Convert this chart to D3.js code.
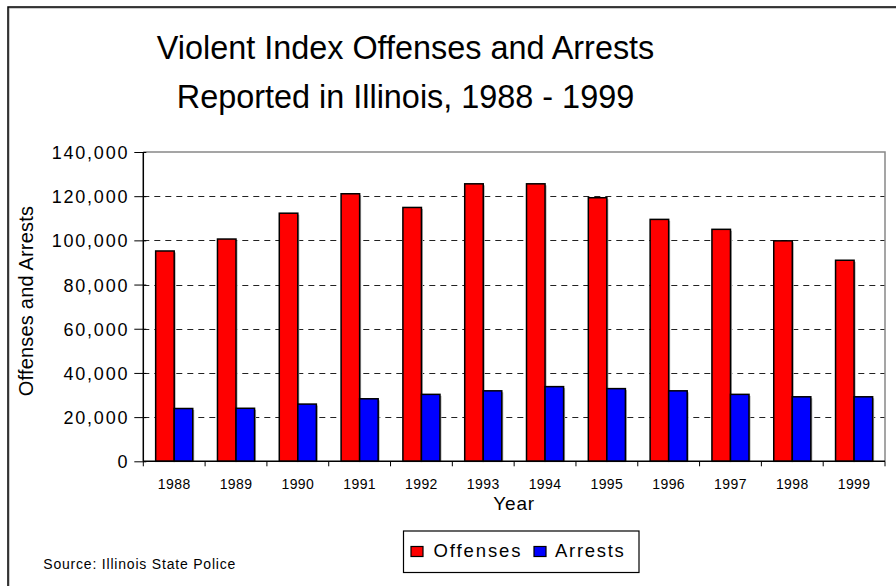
<!DOCTYPE html>
<html>
<head>
<meta charset="utf-8">
<script src="https://cdn.jsdelivr.net/npm/d3@7"></script>
<style>
  html, body { margin: 0; padding: 0; background: #fff; }
  svg { display: block; font-family: "Liberation Sans", Arial, sans-serif; }
</style>
</head>
<body>
<svg id="chart" width="896" height="586"></svg>
<script>
const years = ["1988","1989","1990","1991","1992","1993","1994","1995","1996","1997","1998","1999"];
const offenses = [95200, 100600, 112300, 121100, 114900, 125600, 125600, 119300, 109500, 105000, 99800, 91000];
const arrests  = [23900, 24000, 25900, 28300, 30300, 31900, 33800, 32900, 31900, 30300, 29200, 29200];
const seriesNames = ["Offenses", "Arrests"];
const seriesColors = ["#FF0000", "#0000FF"];
const yTicks = [0, 20000, 40000, 60000, 80000, 100000, 120000, 140000];
const titleLines = ["Violent Index Offenses and Arrests", "Reported in Illinois, 1988 - 1999"];

(function () {
const svg = d3.select("#chart");
const pLeft = 143.3, pRight = 885, pTop = 152, pBottom = 461.3;

// outer frame
svg.append("rect").attr("x", 9).attr("y", 8).attr("width", 900).attr("height", 600)
  .attr("fill", "none").attr("stroke", "#999").attr("stroke-width", 1);
svg.append("rect").attr("x", 8).attr("y", 7).attr("width", 900).attr("height", 600)
  .attr("fill", "none").attr("stroke", "#000").attr("stroke-width", 1.5);

// title
svg.append("g").selectAll("text").data(titleLines).join("text")
  .attr("x", 405.5).attr("y", (d, i) => 59 + i * 49)
  .attr("text-anchor", "middle").attr("font-size", 32.4).attr("fill", "#000")
  .text(d => d);

const x = d3.scaleBand().domain(years).range([pLeft, pRight]).paddingInner(0.4).paddingOuter(0.2);
const xs = d3.scaleBand().domain(seriesNames).range([0, x.bandwidth()]);
const y = d3.scaleLinear().domain([0, 140000]).range([pBottom, pTop]);

// gridlines
svg.append("g").selectAll("line").data(yTicks.filter(t => t > 0 && t < 140000)).join("line")
  .attr("x1", pLeft).attr("x2", pRight)
  .attr("y1", d => Math.round(y(d)) + 0.5).attr("y2", d => Math.round(y(d)) + 0.5)
  .attr("stroke", "#222").attr("stroke-width", 1).attr("stroke-dasharray", "6,5");

// plot area top/right border (gray)
svg.append("path")
  .attr("d", `M${pLeft},${pTop}H${pRight}V${pBottom}`)
  .attr("fill", "none").attr("stroke", "#888").attr("stroke-width", 1.5);

// bars
const data = years.map((yr, i) => ({ year: yr, values: [offenses[i], arrests[i]] }));
const groups = svg.append("g").selectAll("g").data(data).join("g")
  .attr("transform", d => `translate(${x(d.year)},0)`);
groups.selectAll("rect.sh").data(d => d.values.map((v, k) => ({ v, k }))).join("rect")
  .attr("class", "sh")
  .attr("x", d => xs(seriesNames[d.k]) + 1.5)
  .attr("y", d => y(d.v) + 1.5)
  .attr("width", xs.bandwidth())
  .attr("height", d => pBottom - y(d.v) - 1.5)
  .attr("fill", "#aaa");
groups.selectAll("rect.bar").data(d => d.values.map((v, k) => ({ v, k }))).join("rect")
  .attr("class", "bar")
  .attr("x", d => xs(seriesNames[d.k]))
  .attr("y", d => y(d.v))
  .attr("width", xs.bandwidth())
  .attr("height", d => pBottom - y(d.v))
  .attr("fill", d => seriesColors[d.k])
  .attr("stroke", "#000").attr("stroke-width", 1.5);

// y axis
const yAxis = d3.axisLeft(y).tickValues(yTicks).tickSize(6).tickPadding(0)
  .tickFormat(d3.format(","));
const yg = svg.append("g").attr("transform", `translate(${pLeft},0)`).call(yAxis);
yg.select(".domain").attr("stroke", "#000").attr("stroke-width", 1.5).attr("d", `M0,${pTop}V${pBottom}`);
yg.selectAll(".tick line").attr("x1", -9).attr("x2", 3).attr("stroke", "#000");
yg.selectAll(".tick text").attr("x", -14).attr("dy", "0.36em")
  .attr("font-size", 18).attr("letter-spacing", "1.8px").attr("fill", "#000")
  .attr("font-family", "Liberation Sans, Arial, sans-serif");

// x axis
const xAxis = d3.axisBottom(x).tickSize(0).tickPadding(0);
const xg = svg.append("g").attr("transform", `translate(0,${pBottom})`).call(xAxis);
xg.select(".domain").attr("stroke", "#000").attr("stroke-width", 1.5).attr("d", `M${pLeft},0H${pRight}`);
xg.selectAll(".tick text").attr("y", 28).attr("dy", 0)
  .attr("font-size", 14).attr("letter-spacing", "0.4px").attr("fill", "#000")
  .attr("font-family", "Liberation Sans, Arial, sans-serif");
const bounds = years.map(yr => x(yr) - x.step() * x.paddingOuter()).concat([pRight]);
xg.append("g").selectAll("line").data(bounds).join("line")
  .attr("x1", d => d).attr("x2", d => d).attr("y1", 0).attr("y2", 5)
  .attr("stroke", "#000").attr("stroke-width", 1);

// axis titles
svg.append("text").attr("x", (pLeft + pRight) / 2).attr("y", 510)
  .attr("text-anchor", "middle").attr("font-size", 19).attr("letter-spacing", "0.8px")
  .text("Year");
svg.append("text").attr("transform", "translate(33,301) rotate(-90)")
  .attr("text-anchor", "middle").attr("font-size", 20).attr("letter-spacing", "0.2px")
  .text("Offenses and Arrests");

// legend
const lg = svg.append("g");
lg.append("rect").attr("x", 403.5).attr("y", 531).attr("width", 235.5).attr("height", 41.5)
  .attr("fill", "#fff").attr("stroke", "#000").attr("stroke-width", 1.2);
const legendItems = [
  { name: seriesNames[0], color: seriesColors[0], sx: 411, tx: 433.5, ls: 1.9 },
  { name: seriesNames[1], color: seriesColors[1], sx: 534, tx: 555, ls: 1.7 }
];
legendItems.forEach(it => {
  lg.append("rect").attr("x", it.sx).attr("y", 546.5).attr("width", 12).attr("height", 10)
    .attr("fill", it.color).attr("stroke", "#000").attr("stroke-width", 1.2);
  lg.append("text").attr("x", it.tx).attr("y", 557.3).attr("font-size", 18.5)
    .attr("letter-spacing", it.ls + "px").text(it.name);
});

// source
svg.append("text").attr("x", 43.3).attr("y", 569.3).attr("font-size", 14)
  .attr("letter-spacing", "0.8px").text("Source: Illinois State Police");
})();
</script>
</body>
</html>
